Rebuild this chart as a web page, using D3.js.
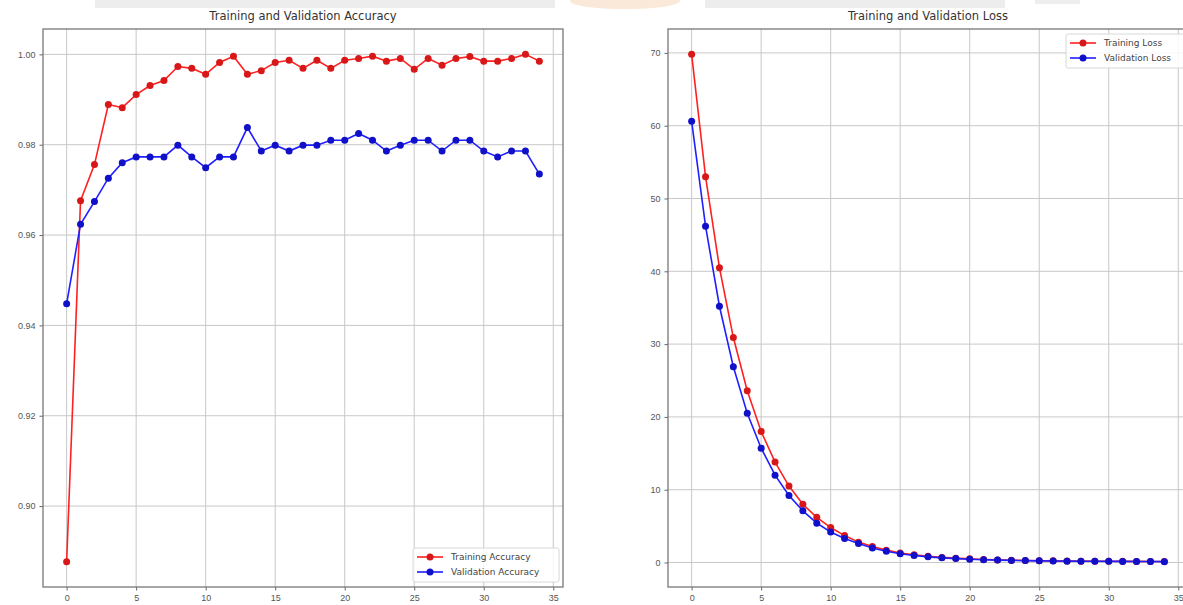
<!DOCTYPE html>
<html>
<head>
<meta charset="utf-8">
<script src="https://cdn.jsdelivr.net/npm/d3@7"></script>
<style>
  body { margin: 0; background: #fff; }
  svg { display: block; font-family: "DejaVu Sans", sans-serif; }
</style>
</head>
<body>
<div id="chart-area"></div>
<script>
// epochs 0..34
var epochs = d3.range(0, 35);

var trainAcc = [0.8877, 0.9676, 0.9756, 0.9889, 0.9882, 0.9911, 0.9931, 0.9942, 0.9973, 0.9969,
                0.9956, 0.9982, 0.9996, 0.9956, 0.9964, 0.9982, 0.9987, 0.9969, 0.9987, 0.9969,
                0.9987, 0.9991, 0.9996, 0.9985, 0.9991, 0.9967, 0.9991, 0.9976, 0.9991, 0.9995,
                0.9985, 0.9985, 0.9991, 1.0000, 0.9985];
var valAcc = [0.9448, 0.9624, 0.9674, 0.9726, 0.9760, 0.9773, 0.9773, 0.9773, 0.9799, 0.9773,
              0.9749, 0.9773, 0.9773, 0.9838, 0.9786, 0.9799, 0.9786, 0.9799, 0.9799, 0.9810,
              0.9810, 0.9825, 0.9810, 0.9786, 0.9799, 0.9810, 0.9810, 0.9786, 0.9810, 0.9810,
              0.9786, 0.9773, 0.9786, 0.9786, 0.9735];

var trainLoss = [69.8, 53.0, 40.5, 30.9, 23.6, 18.0, 13.8, 10.5, 8.0, 6.2,
                 4.8, 3.7, 2.8, 2.2, 1.7, 1.3, 1.05, 0.85, 0.7, 0.6,
                 0.5, 0.42, 0.36, 0.32, 0.28, 0.25, 0.23, 0.21, 0.19, 0.18,
                 0.17, 0.16, 0.15, 0.14, 0.13];
var valLoss = [60.6, 46.2, 35.2, 26.9, 20.5, 15.7, 12.0, 9.2, 7.1, 5.4,
               4.2, 3.3, 2.6, 2.0, 1.55, 1.2, 0.97, 0.78, 0.64, 0.54,
               0.45, 0.38, 0.33, 0.29, 0.26, 0.23, 0.21, 0.19, 0.18, 0.17,
               0.16, 0.15, 0.14, 0.13, 0.12];

var accTicks = [0.90, 0.92, 0.94, 0.96, 0.98, 1.00];
var lossTicks = [0, 10, 20, 30, 40, 50, 60, 70];
var xTicks = [0, 5, 10, 15, 20, 25, 30, 35];

var svg = d3.select("#chart-area").append("svg")
    .attr("width", 1183)
    .attr("height", 605);

// faint watermark band at the top
var wm = svg.append("g").attr("opacity", 0.3);
wm.append("rect").attr("x", 95).attr("y", 0).attr("width", 460).attr("height", 8).attr("fill", "#c4c4c4");
wm.append("rect").attr("x", 705).attr("y", 0).attr("width", 300).attr("height", 8).attr("fill", "#c4c4c4");
wm.append("rect").attr("x", 1035).attr("y", 0).attr("width", 45).attr("height", 4).attr("fill", "#c8c8c8");
wm.append("ellipse").attr("cx", 625).attr("cy", 1).attr("rx", 55).attr("ry", 8).attr("fill", "#f0b880");

// matplotlib style padding of 5%
function padded(values) {
    var ext = d3.extent(values);
    var pad = (ext[1] - ext[0]) * 0.05;
    return [ext[0] - pad, ext[1] + pad];
}

function drawPanel(opt) {
    var x = d3.scaleLinear().domain([-1.7, 35.7]).range([opt.left, opt.right]);
    var y = d3.scaleLinear().domain(padded(opt.series[0].values.concat(opt.series[1].values)))
        .range([587, 29]);

    var g = svg.append("g");

    // grid
    g.append("g").selectAll("line.vx")
        .data(xTicks).enter()
        .append("line")
            .attr("x1", d => x(d)).attr("x2", d => x(d))
            .attr("y1", 29).attr("y2", 587)
            .attr("stroke", "#c8c8c8").attr("stroke-width", 1);
    g.append("g").selectAll("line.hy")
        .data(opt.yTicks).enter()
        .append("line")
            .attr("x1", opt.left).attr("x2", opt.right)
            .attr("y1", d => y(d)).attr("y2", d => y(d))
            .attr("stroke", "#c8c8c8").attr("stroke-width", 1);

    // axes
    var xAxis = d3.axisBottom(x).tickValues(xTicks).tickSize(3.5).tickPadding(4);
    var yAxis = d3.axisLeft(y).tickValues(opt.yTicks).tickSize(3.5).tickPadding(4)
        .tickFormat(opt.yFormat);

    var gx = g.append("g").attr("transform", "translate(0,587)").call(xAxis);
    var gy = g.append("g").attr("transform", "translate(" + opt.left + ",0)").call(yAxis);
    [gx, gy].forEach(a => {
        a.select(".domain").remove();
        a.selectAll("line").attr("stroke", "#666");
        a.selectAll("text").attr("fill", "#555").style("font-size", "9px");
    });

    // frame
    g.append("rect")
        .attr("x", opt.left).attr("y", 29)
        .attr("width", opt.right - opt.left).attr("height", 558)
        .attr("fill", "none").attr("stroke", "#777").attr("stroke-width", 1.3);

    // title
    g.append("text")
        .attr("x", (opt.left + opt.right) / 2).attr("y", 20)
        .attr("text-anchor", "middle")
        .attr("fill", "#333")
        .style("font-size", "11.5px")
        .text(opt.title);

    var line = d3.line().x((d, i) => x(epochs[i])).y(d => y(d));

    opt.series.forEach(s => {
        g.append("path")
            .attr("d", line(s.values))
            .attr("fill", "none")
            .attr("stroke", s.color)
            .attr("stroke-width", 1.6);
        g.append("g").selectAll("circle")
            .data(s.values).enter()
            .append("circle")
                .attr("cx", (d, i) => x(epochs[i]))
                .attr("cy", d => y(d))
                .attr("r", 3.5)
                .attr("fill", s.dot);
    });

    // legend
    var lg = g.append("g").attr("transform", "translate(" + opt.legend[0] + "," + opt.legend[1] + ")");
    lg.append("rect")
        .attr("x", 0).attr("y", 0)
        .attr("width", opt.legendW).attr("height", 34)
        .attr("rx", 2)
        .attr("fill", "#fff").attr("fill-opacity", 0.85)
        .attr("stroke", "#d8d8d8");
    opt.series.forEach((s, i) => {
        var yy = 9 + i * 15;
        lg.append("line")
            .attr("x1", 4).attr("x2", 30)
            .attr("y1", yy).attr("y2", yy)
            .attr("stroke", s.color).attr("stroke-width", 1.6);
        lg.append("circle").attr("cx", 17).attr("cy", yy).attr("r", 3.5).attr("fill", s.dot);
        lg.append("text")
            .attr("x", 38).attr("y", yy + 3.2)
            .attr("fill", "#444")
            .style("font-size", "9px")
            .text(s.name);
    });
}

drawPanel({
    left: 43, right: 563,
    title: "Training and Validation Accuracy",
    yTicks: accTicks,
    yFormat: d3.format(".2f"),
    series: [
        {name: "Training Accuracy", values: trainAcc, color: "#ff2020", dot: "#d81818"},
        {name: "Validation Accuracy", values: valAcc, color: "#1f1fff", dot: "#1010c8"}
    ],
    legend: [413, 548], legendW: 146
});

drawPanel({
    left: 668, right: 1188,
    title: "Training and Validation Loss",
    yTicks: lossTicks,
    yFormat: d3.format("d"),
    series: [
        {name: "Training Loss", values: trainLoss, color: "#ff2020", dot: "#d81818"},
        {name: "Validation Loss", values: valLoss, color: "#1f1fff", dot: "#1010c8"}
    ],
    legend: [1066, 34], legendW: 118
});
</script>
</body>
</html>
